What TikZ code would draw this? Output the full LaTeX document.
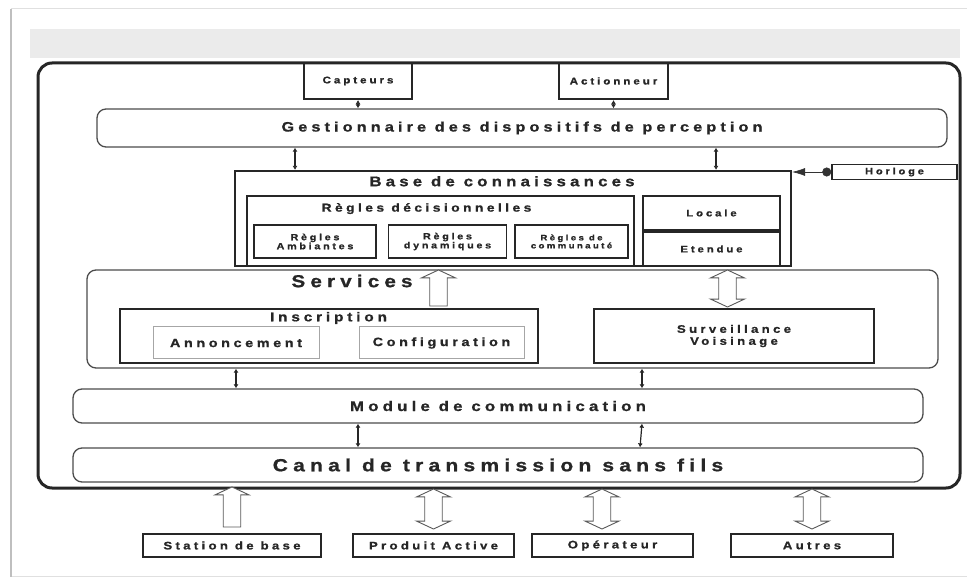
\documentclass[tikz,border=0pt]{standalone}
\usepackage{fontspec}
\setmainfont{Liberation Sans}
\newfontfamily\spaced[LetterSpace=30, FakeStretch=1.2, FakeBold=1]{Liberation Sans Bold}
\usetikzlibrary{positioning, arrows.meta, shapes.arrows}

\begin{document}
\begin{tikzpicture}[x=1pt, y=-1pt,
  txt/.style={font=\spaced\fontsize{#1}{#1}\selectfont, text=black!85},
  box/.style={draw=black!85, line width=2.2pt, inner sep=0},
  rbox/.style={draw=black!70, line width=1.3pt, rounded corners=9pt, inner sep=0},
  sub/.style={draw=black!85, line width=1.5pt, inner sep=0, align=center},
  lite/.style={draw=black!35, line width=1pt, inner sep=0},
  link/.style={{Latex[length=4pt,width=5pt]}-{Latex[length=4pt,width=5pt]}, line width=1.2pt, black!85},
  up/.style={single arrow, draw=black!65, line width=0.9pt, fill=white, rotate=90, inner sep=0,
    text height=8pt, text depth=8pt, single arrow head extend=8pt, single arrow tip angle=130},
  updown/.style={double arrow, draw=black!65, line width=0.9pt, fill=white, rotate=90, inner sep=0,
    text height=8pt, text depth=8pt, double arrow head extend=8pt, double arrow tip angle=130}
  ]

  \useasboundingbox (0,0) rectangle (967,577);
  % page edge and grey band
  \draw[black!12, line width=1pt] (967,9) -- (11,9) -- (11,576) -- (967,576);
  \draw[black!25, line width=2pt] (11,9) -- (11,577);
  \fill[black!8] (30,29) rectangle (960,58);

  \draw node[draw=black!85, line width=3pt, rounded corners=14pt, minimum width=922, minimum height=425] (frame) at (499,275.5) {};

  \draw node[box, minimum width=108, minimum height=36, txt=9.7] (cap) at (358,81) {Capteurs}
    node[box, minimum width=109, minimum height=36, txt=9.7] (act) at (613.5,81) {Actionneur};
  \draw node[rbox, minimum width=850, minimum height=38, txt=13.6] (gest) at (522,128) {Gestionnaire des dispositifs de perception};

  \draw node[box, minimum width=556, minimum height=95] (base) at (513,218.5) {}
    node[txt=14, inner sep=0, below=6pt of base.north, xshift=-11pt] (basettl) {Base de connaissances};
  \draw node[box, line width=2pt, minimum width=387, minimum height=70] (regl) at (440.5,231) {}
    node[txt=11.5, inner sep=0, below=8pt of regl.north, xshift=-14pt] (reglttl) {Règles décisionnelles};
  \draw node[sub, minimum width=122, minimum height=33, txt=9] (ramb) at (315,241.5) {Règles\\Ambiantes}
    node[sub, minimum width=118, minimum height=33, txt=9, right=11pt of ramb] (rdyn) {Règles\\dynamiques}
    node[sub, minimum width=113, minimum height=33, txt=8, right=7pt of rdyn] (rcom) {Règles de\\communauté};
  \draw node[box, line width=2pt, minimum width=137, minimum height=34, txt=9.5] (loc) at (711.5,213) {Locale}
    node[box, line width=2pt, minimum width=137, minimum height=34, txt=9.5, below=0pt of loc] (eten) {Etendue};

  \draw node[box, line width=1.5pt, minimum width=125, minimum height=15, txt=9.3] (horl) at (894.5,172) {Horloge};
  \draw[{Circle[length=9pt]}-{Latex[length=13pt,width=8pt]}, black!80, line width=0.6pt] (horl.west) -- (horl.west -| base.east);

  \draw node[rbox, minimum width=851, minimum height=98] (svc) at (512.5,319) {}
    node[txt=17.2, inner sep=0] (svcttl) at (352,281) {Services};
  \draw node[box, line width=2pt, minimum width=418, minimum height=54] (insc) at (329,336) {}
    node[txt=12.8, inner sep=0] (inscttl) at (328.5,318) {Inscription};
  \draw node[lite, minimum width=166, minimum height=32, txt=12] (ann) at (236,343) {Annoncement}
    node[lite, minimum width=165, minimum height=32, txt=12, right=39pt of ann] (conf) {Configuration};
  \draw node[box, line width=2pt, minimum width=280, minimum height=54, txt=11, align=center] (surv) at (734,336) {Surveillance\\[1pt]Voisinage};

  \draw node[rbox, minimum width=850, minimum height=34, txt=14] (mod) at (498,406) {Module de communication};
  \draw node[rbox, minimum width=850, minimum height=34, txt=17.5] (canal) at (498,465) {Canal de transmission sans fils};

  \draw node[box, line width=1.6pt, minimum width=178, minimum height=23, txt=11] (sta) at (232,545.5) {Station de base}
    node[box, line width=1.6pt, minimum width=161, minimum height=23, txt=11] (prod) at (433.5,545.5) {Produit Active}
    node[box, line width=1.6pt, minimum width=161, minimum height=23, txt=11] (oper) at (612.5,545.5) {Opérateur}
    node[box, line width=1.6pt, minimum width=162, minimum height=23, txt=11] (autr) at (812,545.5) {Autres};

  \draw[link] (cap.south) -- (cap.south |- gest.north);
  \draw[link] (act.south) -- (act.south |- gest.north);
  \draw[link] ([xshift=-218pt]base.north) -- ([xshift=-218pt]base.north |- gest.south);
  \draw[link] ([xshift=203pt]base.north) -- ([xshift=203pt]base.north |- gest.south);
  \draw[link] (ann |- svc.south) -- (ann |- mod.north);
  \draw[link] (loc.west |- svc.south) -- (loc.west |- mod.north);
  \draw[link] (cap |- mod.south) -- (cap |- canal.north);
  \draw[link] (loc.west |- mod.south) -- ([xshift=-2pt]loc.west |- canal.north);

  % hollow arrows
  \node[up, minimum height=36, minimum width=34] (up1) at (438.5,290) {};
  \node[updown, minimum height=37, minimum width=34] (ud1) at (727.5,288.5) {};
  \node[up, minimum height=40, minimum width=34] (up2) at (232,509) {};
  \node[updown, minimum height=40, minimum width=34] (ud2) at (433.5,509) {};
  \node[updown, minimum height=40, minimum width=34] (ud3) at (602,509) {};
  \node[updown, minimum height=40, minimum width=34] (ud4) at (812,509) {};
\end{tikzpicture}
\end{document}
